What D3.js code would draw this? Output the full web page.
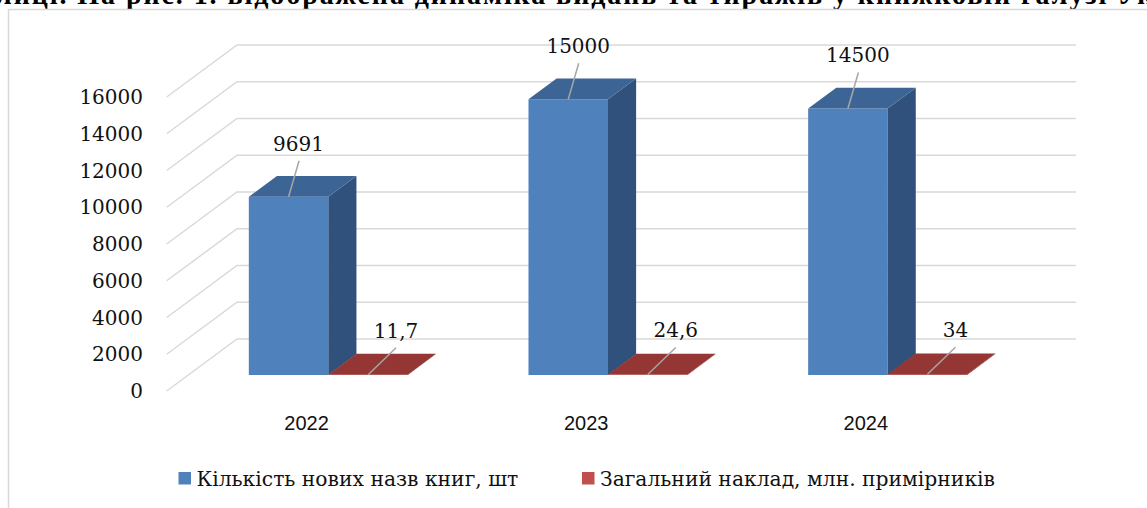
<!DOCTYPE html>
<html>
<head>
<meta charset="utf-8">
<script src="https://cdn.jsdelivr.net/npm/d3@7/dist/d3.min.js"></script>
<style>
  body { margin: 0; background: #fff; }
  svg { display: block; }
</style>
</head>
<body>
<svg id="chart"></svg>
<script>
// chart data
const years = ['2022', '2023', '2024'];
const newTitles = [9691, 15000, 14500];
const printRun = [11.7, 24.6, 34];
const yTicks = [0, 2000, 4000, 6000, 8000, 10000, 12000, 14000, 16000];
const seriesNames = ['Кількість нових назв книг, шт', 'Загальний наклад, млн. примірників'];
const pageLine = 'лиці. На рис. 1. відображена динаміка видань та тиражів у книжковій галузі Укр';

const W = 1147, H = 508;
const svg = d3.select('#chart').attr('width', W).attr('height', H);

// 3d projection: front plane + depth offset
const DX = 70.3, DY = 52;
const F1 = 0.31, F2 = 0.71;   // bar depth (front / back)

const y = d3.scaleLinear().domain([0, 16000]).range([391, 97]);
const x0 = d3.scaleBand().domain(years).range([166.7, 1005.7]).padding(0);
const gap = x0.bandwidth() * 0.2157;
const x1 = d3.scaleBand().domain([0, 1]).range([gap, x0.bandwidth() - gap]).padding(0);

function proj(X, v, f) {
    return [X + f * DX, y(v) - f * DY];
}

const serif = 'DejaVu Serif';

// cut text line of the page above the chart
svg.append('text')
    .attr('x', -4).attr('y', 3.5)
    .attr('font-family', 'Liberation Serif')
    .attr('font-size', 28)
    .attr('font-weight', 'bold')
    .attr('fill', '#000')
    .attr('textLength', 1175)
    .text(pageLine);

// chart frame
svg.append('path')
    .attr('d', 'M8.5,' + H + 'V9.5H' + (W + 2))
    .attr('fill', 'none')
    .attr('stroke', '#d9d9d9')
    .attr('stroke-width', 1.5);

// gridlines: back wall + side wall
const grid = svg.append('g').attr('stroke', '#d9d9d9').attr('stroke-width', 1.5).attr('fill', 'none');
yTicks.forEach(t => {
    const a = proj(x0.range()[0], t, 0);
    const b = proj(x0.range()[0], t, 1);
    const c = proj(x0.range()[1], t, 1);
    grid.append('path').attr('d', 'M' + a + 'L' + b + 'L' + c);
});

// y tick labels
svg.append('g')
    .selectAll('text')
    .data(yTicks)
    .join('text')
    .attr('x', 143)
    .attr('y', d => y(d))
    .attr('dy', '0.36em')
    .attr('text-anchor', 'end')
    .attr('font-family', serif)
    .attr('font-size', 20)
    .attr('fill', '#111')
    .text(d => d);

// category labels
svg.append('g')
    .selectAll('text')
    .data(years)
    .join('text')
    .attr('x', d => x0(d) + x0.bandwidth() / 2)
    .attr('y', 429.5)
    .attr('text-anchor', 'middle')
    .attr('font-family', 'Liberation Sans')
    .attr('font-size', 20)
    .attr('fill', '#111')
    .text(d => d);

const colors = [
    {front: '#4f81bd', top: '#3c6595', side: '#31517d'},
    {front: '#a33c3a', top: '#943634', side: '#7a2c2a'}
];
const series = [newTitles, printRun];
const poly = pts => 'M' + pts.join('L') + 'Z';

const bars = svg.append('g');
years.forEach((yr, i) => {
    series.forEach((vals, s) => {
        const v = vals[i];
        const XL = x0(yr) + x1(s);
        const XR = XL + x1.bandwidth();
        const g = bars.append('g');
        g.append('path')
            .attr('d', poly([proj(XL, 0, F1), proj(XR, 0, F1), proj(XR, v, F1), proj(XL, v, F1)]))
            .attr('fill', colors[s].front);
        g.append('path')
            .attr('d', poly([proj(XR, 0, F1), proj(XR, 0, F2), proj(XR, v, F2), proj(XR, v, F1)]))
            .attr('fill', colors[s].side);
        g.append('path')
            .attr('d', poly([proj(XL, v, F1), proj(XR, v, F1), proj(XR, v, F2), proj(XL, v, F2)]))
            .attr('fill', colors[s].top);
    });
});

// data labels with leader lines
const labelStyle = [
    {lx: 10.5, ly: -36, tx: 10, ty: -46},
    {lx: 28, ly: -27, tx: 28, ty: -37}
];
const labels = svg.append('g');
years.forEach((yr, i) => {
    series.forEach((vals, s) => {
        const v = vals[i];
        const cx = x0(yr) + x1(s) + x1.bandwidth() / 2;
        const p = proj(cx, v, F1);
        const st = labelStyle[s];
        labels.append('line')
            .attr('x1', p[0]).attr('y1', p[1])
            .attr('x2', p[0] + st.lx).attr('y2', p[1] + st.ly)
            .attr('stroke', '#a6a6a6').attr('stroke-width', 1.5);
        labels.append('text')
            .attr('x', p[0] + st.tx)
            .attr('y', p[1] + st.ty)
            .attr('text-anchor', 'middle')
            .attr('font-family', serif)
            .attr('font-size', 20)
            .attr('fill', '#111')
            .text(String(v).replace('.', ','));
    });
});

// legend
const legendX = [178.5, 582];
const legend = svg.append('g');
seriesNames.forEach((name, s) => {
    legend.append('rect')
        .attr('x', legendX[s]).attr('y', 472)
        .attr('width', 12.5).attr('height', 12.5)
        .attr('fill', s === 0 ? '#4f81bd' : '#c0504d');
    legend.append('text')
        .attr('x', legendX[s] + 18).attr('y', 486)
        .attr('font-family', serif)
        .attr('font-size', 20.3)
        .attr('fill', '#111')
        .text(name);
});
</script>
</body>
</html>
